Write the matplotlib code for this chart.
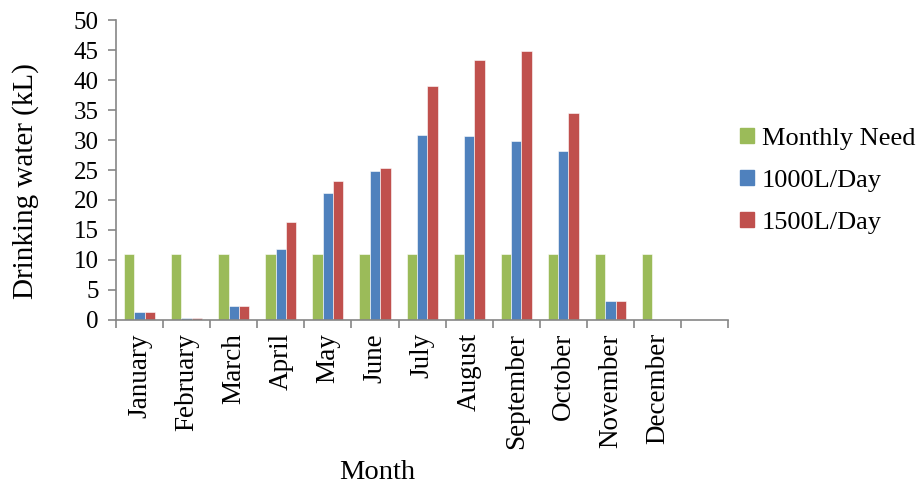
import numpy as np
import matplotlib
import matplotlib.pyplot as plt
from matplotlib.patches import Patch

matplotlib.use('Agg')

# Data (kL)
months = ['January', 'February', 'March', 'April', 'May', 'June', 'July',
          'August', 'September', 'October', 'November', 'December', '']
monthly_need = [11, 11, 11, 11, 11, 11, 11, 11, 11, 11, 11, 11]
day_1000 = [1.3, 0.3, 2.4, 11.8, 21.2, 24.8, 30.9, 30.7, 29.9, 28.2, 3.2, 0]
day_1500 = [1.3, 0.3, 2.4, 16.4, 23.1, 25.4, 39.0, 43.4, 44.9, 34.5, 3.2, 0]
series_names = ['Monthly Need', '1000L/Day', '1500L/Day']
colors = ['#9BBB59', '#4F81BD', '#C0504D']

plt.rcParams['font.family'] = 'Liberation Serif'
axis_grey = '#868686'

fig = plt.figure(figsize=(9.17, 4.86), dpi=100)
ax = fig.add_axes([0.1265, 0.3416, 0.6675, 0.6172])

x = np.arange(len(monthly_need))
w = 0.22
for i, vals in enumerate([monthly_need, day_1000, day_1500]):
    ax.bar(x + (i - 1) * w, vals, width=w, color=colors[i],
           edgecolor='white', linewidth=0.4, label=series_names[i])

ax.set_xlim(-0.5, len(months) - 0.5)
ax.set_ylim(0, 50)
ax.set_yticks(np.arange(0, 51, 5))
ax.tick_params(axis='y', labelsize=18, length=5.5, color=axis_grey, width=1.2, pad=7)

ax.set_xticks(np.arange(len(months)))
ax.set_xticklabels(months, rotation=90, fontsize=19.5)
ax.tick_params(axis='x', which='major', length=0, pad=9.5)
ax.set_xticks(np.arange(len(months) + 1) - 0.5, minor=True)
ax.tick_params(axis='x', which='minor', length=5.5, color=axis_grey, width=1.2)

for side in ['top', 'right']:
    ax.spines[side].set_visible(False)
for side in ['left', 'bottom']:
    ax.spines[side].set_color(axis_grey)
    ax.spines[side].set_linewidth(1.2)

ax.set_ylabel('Drinking water (kL)', fontsize=21)
ax.yaxis.set_label_coords(-0.147, 0.463)
ax.yaxis.label.set_va('center')
ax.set_xlabel('Month', fontsize=20.5)
ax.xaxis.set_label_coords(0.426, -0.53)
ax.xaxis.label.set_va('baseline')

handles = [Patch(color=c) for c in colors]
fig.legend(handles, series_names, loc='center left', bbox_to_anchor=(0.807, 0.6276),
           frameon=False, fontsize=19, handlelength=0.52, handleheight=0.52,
           handletextpad=0.3, labelspacing=0.76, borderpad=0, borderaxespad=0)

fig.savefig('out.png', dpi=100)
